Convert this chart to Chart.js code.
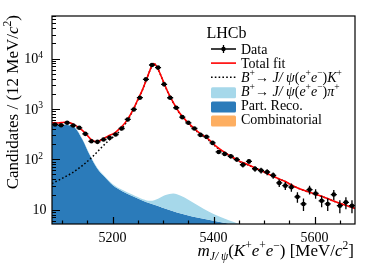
<!DOCTYPE html>
<html>
<head>
<meta charset="utf-8">
<script src="https://cdn.jsdelivr.net/npm/chart.js@4.4.0/dist/chart.umd.min.js"></script>
<style>
body{margin:0;background:#fff}
canvas{display:block}
</style>
</head>
<body>
<canvas id="massChart" width="374" height="268"></canvas>
<script>
// data, 12 MeV bins
let binCentres=[5086,5098,5110,5122,5134,5146,5158,5170,5182,5194,
5206,5218,5230,5242,5254,5266,5278,5290,5302,5314,
5326,5338,5350,5362,5374,5386,5398,5410,5422,5434,
5446,5458,5470,5482,5494,5506,5518,5530,5542,5554,
5566,5578,5590,5602,5614,5626,5638,5650,5662,5674]
let dataCounts=[491,475,531,469,422,320,228,222,247,267,
311,409,618,977,1671,3870,7460,6620,3080,1670,
1057,687,531,409,305,280,212,140,128,115,
99,78,91,65,60,56,48,34,30,28,
18,13,25,21,15,13,20,12,14,12]

// total fit curve
let fitMass=[5080,5092,5104,5110,5122,5134,5146,5158,5168,5178,5190,5205,5215,5225,5235,5244,5252,5258,5266,5272,5277,5281,5286,5292,5300,5310,5320,5332,5344,5356,5368,5380,5392,5404,5416,5428,5440,5452,5464,5476,5490,5505,5520,5540,5560,5580,5600,5620,5640,5660,5680]
let fitTotal=[530,525,545,547,500,420,330,245,222,245,285,340,415,535,760,1140,1700,2260,3600,5200,6900,8000,7300,5600,3600,2100,1350,850,610,460,360,295,240,185,150,125,106,91,82,72,62,53,45,37,29,24,20.5,17.5,14.6,12.4,10.6]

// B+ -> J/psi K+ component
let sigMass=[5080,5100,5120,5140,5160,5175,5190,5205,5215,5225,5235,5244,5252,5258,5266,5272,5277,5281,5286,5292,5300,5310,5320,5332,5344,5356,5368,5380,5392,5404,5416,5428,5440,5452,5464,5476,5490,5505,5520,5540,5560,5580,5600,5620,5640,5660,5680]
let sigValues=[33,42,54,75,112,160,225,300,370,500,735,1115,1675,2235,3580,5180,6880,7980,7280,5580,3580,2080,1330,835,595,445,350,285,232,180,146,122,104,89.5,80.5,71,61.5,52.5,44.7,36.8,28.9,23.9,20.4,17.4,14.5,12.3,10.5]

// stacked bands: part reco, and part reco + J/psi pi
let bandMass=[5080,5095,5110,5125,5140,5155,5170,5185,5200,5220,5240,5260,5275,5290,5305,5320,5335,5350,5365,5380,5400,5420,5440,5460,5480]
let partReco=[480,485,480,430,250,120,65,44,31,23,18.5,15,13.2,11.8,10.4,9.3,8.4,7.7,7.1,6.6,6.0,5.5,5.0,4.5,4.0]
let piStackTop=[488,492,488,438,255,123,67,45.5,32.5,24.5,19.8,16.2,15,16.5,19.5,21,19,15.8,12.8,10.5,8.2,6.8,5.7,4.8,4.0]

let xTickLabels=[5200,5400,5600]
let yTickLabels=[10,100,1000,10000]

let serif='"Liberation Serif", "Times New Roman", serif'

function pts(xs,ys){
    return xs.map((x,i)=>({x:x,y:ys[i]}))
}

// draws a list of text pieces: {t, i (italic), s ('^' or '_')}
function richWidth(ctx,parts,size){
    let w=0
    parts.forEach(p=>{
        let fs=p.s?size*0.68:size
        ctx.font=(p.i?'italic ':'')+fs+'px '+serif
        w+=ctx.measureText(p.t).width
    })
    return w
}
function richText(ctx,parts,x,y,size,align){
    let w=richWidth(ctx,parts,size)
    let cx=x
    if(align=='right') cx=x-w
    if(align=='center') cx=x-w/2
    ctx.textBaseline='alphabetic'
    ctx.textAlign='left'
    parts.forEach(p=>{
        let fs=p.s?size*0.68:size
        ctx.font=(p.i?'italic ':'')+fs+'px '+serif
        let dy=0
        if(p.s=='^') dy=-size*0.4
        if(p.s=='_') dy=size*0.22
        ctx.fillText(p.t,cx,y+dy)
        cx+=ctx.measureText(p.t).width
    })
}

const axesAndLegend={
    id:'axesAndLegend',
    afterDatasetsDraw(chart){
        let ctx=chart.ctx
        let a=chart.chartArea
        let xs=chart.scales.x
        let ys=chart.scales.y
        ctx.save()
        ctx.beginPath()
        ctx.rect(a.left,a.top,a.right-a.left,a.bottom-a.top)
        ctx.clip()
        // error bars for the data
        ctx.strokeStyle='#000'
        ctx.lineWidth=1.3
        binCentres.forEach((m,i)=>{
            let n=dataCounts[i]
            let e=Math.sqrt(n)
            let px=xs.getPixelForValue(m)
            let py=ys.getPixelForValue(n)
            ctx.beginPath()
            ctx.moveTo(px,ys.getPixelForValue(n+e))
            ctx.lineTo(px,ys.getPixelForValue(n-e))
            ctx.moveTo(xs.getPixelForValue(m-6),py)
            ctx.lineTo(xs.getPixelForValue(m+6),py)
            ctx.stroke()
        })
        ctx.restore()

        ctx.save()
        ctx.strokeStyle='#000'
        ctx.lineWidth=1.2
        ctx.strokeRect(a.left,a.top,a.right-a.left,a.bottom-a.top)
        // x ticks
        ctx.beginPath()
        for(let m=5100;m<5680;m+=50){
            let px=Math.round(xs.getPixelForValue(m))+0.5
            let len=(m%200==0)?7:3.5
            ctx.moveTo(px,a.bottom)
            ctx.lineTo(px,a.bottom-len)
        }
        // y ticks
        for(let d=0;d<5;d++){
            for(let k=1;k<10;k++){
                let v=k*Math.pow(10,d)
                if(v<ys.min||v>ys.max) continue
                let py=Math.round(ys.getPixelForValue(v))+0.5
                let len=(k==1)?8:4
                ctx.moveTo(a.left,py)
                ctx.lineTo(a.left+len,py)
            }
        }
        ctx.stroke()
        ctx.fillStyle='#000'
        // tick labels
        xTickLabels.forEach(m=>{
            richText(ctx,[{t:String(m)}],xs.getPixelForValue(m),242,14,'center')
        })
        yTickLabels.forEach(v=>{
            let py=ys.getPixelForValue(v)
            let p=Math.round(Math.log10(v))
            if(p==1) richText(ctx,[{t:'10'}],46.5,py+4.8,14,'right')
            else richText(ctx,[{t:'10'},{t:String(p),s:'^'}],43,py+4.8,14,'right')
        })
        // axis titles
        richText(ctx,[{t:'m',i:true},{t:'J/ ψ',i:true,s:'_'},{t:'('},{t:'K',i:true},{t:'+',s:'^'},{t:'e',i:true},{t:'+',s:'^'},{t:'e',i:true},{t:'−',s:'^'},{t:') [MeV/'},{t:'c',i:true},{t:'2',s:'^'},{t:']'}],354,256,17,'right')
        ctx.save()
        ctx.translate(17.5,15)
        ctx.rotate(-Math.PI/2)
        richText(ctx,[{t:'Candidates / (12 MeV/'},{t:'c',i:true},{t:'2',s:'^'},{t:')'}],0,0,17,'right')
        ctx.restore()

        // legend
        richText(ctx,[{t:'LHCb'}],206.5,38,16,'left')
        let lx0=211, lx1=236, tx=241, base=53.5, step=14.1
        // Data
        let yy=base-4.5
        ctx.lineWidth=1.3
        ctx.beginPath()
        ctx.moveTo(lx0,yy);ctx.lineTo(lx1,yy)
        ctx.moveTo((lx0+lx1)/2,yy-4);ctx.lineTo((lx0+lx1)/2,yy+4)
        ctx.stroke()
        ctx.beginPath();ctx.arc((lx0+lx1)/2,yy,2.2,0,Math.PI*2);ctx.fill()
        richText(ctx,[{t:'Data'}],tx,base,14,'left')
        // Total fit
        yy=base+step-4.5
        ctx.strokeStyle='#ff0000';ctx.lineWidth=1.6
        ctx.beginPath();ctx.moveTo(lx0,yy);ctx.lineTo(lx1,yy);ctx.stroke()
        richText(ctx,[{t:'Total fit'}],tx,base+step,14,'left')
        // signal
        yy=base+2*step-4.5
        ctx.strokeStyle='#000';ctx.lineWidth=1.5;ctx.setLineDash([1.6,2.2])
        ctx.beginPath();ctx.moveTo(lx0,yy);ctx.lineTo(lx1,yy);ctx.stroke()
        ctx.setLineDash([])
        richText(ctx,[{t:'B',i:true},{t:'+',s:'^'},{t:'→ '},{t:'J/ ψ',i:true},{t:'('},{t:'e',i:true},{t:'+',s:'^'},{t:'e',i:true},{t:'−',s:'^'},{t:')'},{t:'K',i:true},{t:'+',s:'^'}],tx,base+2*step,14,'left')
        // patches
        let patches=[['#a6d8ea',3],['#2b7bba',4],['#fdae61',5]]
        patches.forEach(p=>{
            ctx.fillStyle=p[0]
            let b=base+p[1]*step
            ctx.beginPath()
            ctx.roundRect(lx0,b-8.5,lx1-lx0,11,1.5)
            ctx.fill()
        })
        ctx.fillStyle='#000'
        richText(ctx,[{t:'B',i:true},{t:'+',s:'^'},{t:'→ '},{t:'J/ ψ',i:true},{t:'('},{t:'e',i:true},{t:'+',s:'^'},{t:'e',i:true},{t:'−',s:'^'},{t:')'},{t:'π',i:true},{t:'+',s:'^'}],tx,base+3*step,14,'left')
        richText(ctx,[{t:'Part. Reco.'}],tx,base+4*step,14,'left')
        richText(ctx,[{t:'Combinatorial'}],tx,base+5*step,14,'left')
        ctx.restore()
    }
}

let massChart=new Chart(document.getElementById('massChart').getContext('2d'),{
    type:'line',
    data:{
        datasets:[
            {label:'Data',data:pts(binCentres,dataCounts),showLine:false,pointRadius:2.3,pointBackgroundColor:'#000',pointBorderWidth:0,order:0},
            {label:'Total fit',data:pts(fitMass,fitTotal),borderColor:'#ff0000',borderWidth:1.6,pointRadius:0,cubicInterpolationMode:'monotone',order:1},
            {label:'B+ -> J/psi(ee)K+',data:pts(sigMass,sigValues),borderColor:'#000',borderWidth:1.5,borderDash:[1.6,2.2],pointRadius:0,cubicInterpolationMode:'monotone',order:2},
            {label:'B+ -> J/psi(ee)pi+',data:pts(bandMass,piStackTop),borderWidth:0,borderColor:'rgba(0,0,0,0)',backgroundColor:'#a6d8ea',fill:4,pointRadius:0,cubicInterpolationMode:'monotone',order:3},
            {label:'Part. Reco.',data:pts(bandMass,partReco),borderWidth:0,borderColor:'rgba(0,0,0,0)',backgroundColor:'#2b7bba',fill:'start',pointRadius:0,cubicInterpolationMode:'monotone',order:4}
        ]
    },
    options:{
        responsive:false,
        devicePixelRatio:1,
        animation:false,
        layout:{padding:{left:52,top:16,right:19,bottom:44}},
        plugins:{legend:{display:false},tooltip:{enabled:false}},
        scales:{
            x:{type:'linear',min:5080,max:5680,display:false},
            y:{type:'logarithmic',min:5.2,max:70000,display:false}
        }
    },
    plugins:[axesAndLegend]
})
</script>
</body>
</html>
